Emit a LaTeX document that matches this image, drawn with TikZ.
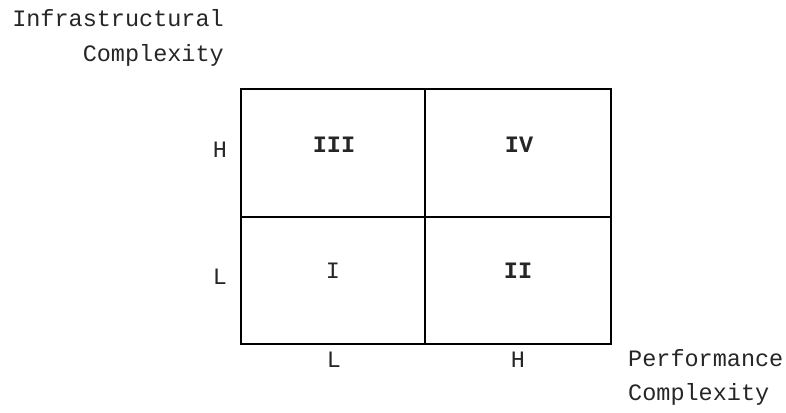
\documentclass[tikz,border=0pt]{standalone}
\usepackage{fontspec}
\setmainfont{Liberation Mono}
\begin{document}
\begin{tikzpicture}[x=1pt,y=-1pt,
  lbl/.style={font=\fontsize{23.5}{28}\selectfont, inner sep=0pt, anchor=base, text=black!85},
  bl/.style={lbl, font=\fontsize{23.5}{28}\selectfont\bfseries},
  gridline/.style={line width=2pt, black}]
\useasboundingbox (0,0) rectangle (786,412);
% grid
\coordinate (tl) at (241,89);
\coordinate (br) at (611,344);
\coordinate (tm) at (425,89);
\coordinate (bm) at (425,344);
\coordinate (ml) at (241,217);
\coordinate (mr) at (611,217);
\draw[gridline] (tl) rectangle (br);
\draw[gridline] (tm) -- (bm);
\draw[gridline] (ml) -- (mr);
% axis titles
\node[lbl, anchor=base east] (yt1) at (224,27) {Infrastructural};
\node[lbl, anchor=base east] (yt2) at (224,62) {Complexity};
\node[lbl, anchor=base west] (xt1) at (628,366) {Performance};
\node[lbl, anchor=base west] (xt2) at (628,400) {Complexity};
% axis ticks
\node[lbl] (yh) at (220,157) {H};
\node[lbl] (yl) at (220,284) {L};
\node[lbl] (xl) at (334,367) {L};
\node[lbl] (xh) at (518,367) {H};
% quadrants
\node[bl] (q3) at (334,152) {III};
\node[bl] (q4) at (519,152) {IV};
\node[lbl] (q1) at (333,278) {I};
\node[bl] (q2) at (518,278) {II};
\end{tikzpicture}
\end{document}
